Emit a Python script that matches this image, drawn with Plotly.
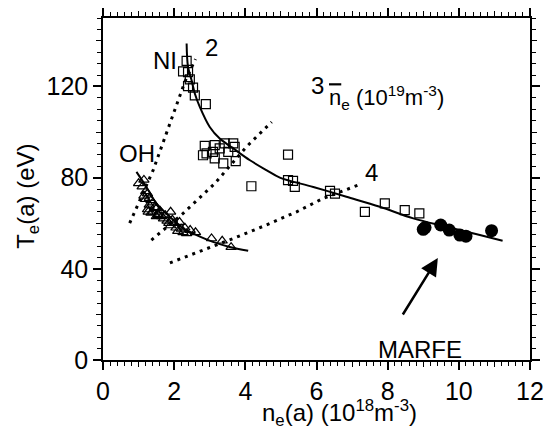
import plotly.graph_objects as go

# ---------------- data ----------------
# NI (squares)
ni_x = [2.35, 2.25, 2.39, 2.44, 2.39, 2.53, 2.58, 2.89, 2.86, 2.91, 3.14, 3.09, 3.14, 3.42, 3.38,
        3.66, 3.70, 3.73, 3.28, 3.52, 2.81, 5.20, 4.17, 5.20, 5.34, 5.39, 6.38, 6.52, 7.36, 7.92,
        8.48, 8.89]
ni_y = [131.2, 126.6, 126.3, 123.1, 120.1, 119.5, 116.1, 112.2, 93.9, 90.6, 94.2, 91.3, 88.4, 95.0, 86.2,
        95.0, 93.5, 87.2, 92.8, 91.3, 89.8, 90.1, 76.2, 78.9, 78.6, 75.9, 74.2, 73.0, 65.0, 68.7,
        65.7, 64.3]

# OH (triangles)
oh_x = [1.15, 1.00, 1.10, 1.20, 1.15, 1.25, 1.30, 1.20, 1.35, 1.30, 1.40, 1.45, 1.25, 1.40, 1.50,
        1.55, 1.35, 1.60, 1.65, 1.50, 1.70, 1.75, 1.80, 1.90, 1.85, 1.95, 1.90, 2.00, 2.05, 2.15,
        2.10, 2.20, 2.25, 2.35, 2.30, 2.45, 2.60, 3.05, 3.35, 3.60, 1.27, 1.55]
oh_y = [79.0, 77.5, 76.0, 74.0, 72.0, 73.0, 71.0, 70.5, 70.0, 68.0, 69.0, 67.0, 66.0, 65.0, 66.5,
        64.0, 64.5, 65.5, 63.0, 63.0, 62.0, 63.5, 61.0, 65.0, 60.0, 61.5, 59.0, 60.0, 58.0, 60.5,
        56.5, 57.5, 56.0, 55.5, 58.0, 57.0, 56.0, 53.3, 52.3, 49.5, 65.0, 63.5]

# MARFE (filled circles)
marfe_x = [9.05, 9.00, 9.49, 9.73, 10.03, 10.20, 10.92]
marfe_y = [58.1, 57.3, 59.2, 57.0, 54.8, 54.3, 56.7]

# fit curves
ni_fit_x = [2.35, 2.39, 2.49, 2.58, 2.72, 3.00, 3.28, 3.66, 4.13, 4.59, 4.97, 5.91, 6.84, 7.78, 8.72, 9.66, 10.59, 11.23]
ni_fit_y = [138.8, 128.5, 122.7, 116.9, 111.0, 102.2, 97.1, 92.8, 87.6, 83.3, 80.0, 75.9, 71.6, 67.2, 62.1, 58.4, 54.8, 52.3]
oh_fit_x = [0.94, 1.22, 1.50, 1.88, 2.25, 2.63, 3.09, 3.56, 4.08]
oh_fit_y = [82.5, 75.9, 68.7, 62.8, 57.7, 54.8, 51.8, 49.6, 47.9]

# constant line-averaged density lines (2, 3, 4 x 10^19 m^-3)
nbar2_x = [0.75, 1.41, 1.88, 2.30, 2.60]
nbar2_y = [60.0, 83.3, 103.7, 122.0, 132.0]
nbar3_x = [1.36, 2.25, 3.14, 4.03, 4.74]
nbar3_y = [52.6, 64.3, 77.4, 93.5, 104.4]
nbar4_x = [1.88, 2.72, 3.66, 4.59, 5.44, 6.19, 7.17]
nbar4_y = [42.6, 47.5, 53.3, 59.2, 65.0, 70.9, 76.7]

x_range = [0, 12]
y_range = [0, 150]

x_title = "n<sub>e</sub>(a) (10<sup>18</sup>m<sup>-3</sup>)"
y_title = "T<sub>e</sub>(a) (eV)"

FONT = "Liberation Sans, Arial, sans-serif"
FS = 24
TFS = 25

fig = go.Figure()

for xs, ys in [(nbar2_x, nbar2_y), (nbar3_x, nbar3_y), (nbar4_x, nbar4_y)]:
    fig.add_trace(go.Scatter(x=xs, y=ys, mode="lines",
                             line=dict(color="black", width=3, dash="3px,5px"),
                             showlegend=False, hoverinfo="skip"))

fig.add_trace(go.Scatter(x=ni_fit_x, y=ni_fit_y, mode="lines",
                         line=dict(color="black", width=2, shape="spline"), showlegend=False))
fig.add_trace(go.Scatter(x=oh_fit_x, y=oh_fit_y, mode="lines",
                         line=dict(color="black", width=2, shape="spline"), showlegend=False))

fig.add_trace(go.Scatter(x=ni_x, y=ni_y, mode="markers", name="NI",
                         marker=dict(symbol="square-open", size=9, color="black", line=dict(width=1.2)),
                         showlegend=False))
fig.add_trace(go.Scatter(x=oh_x, y=oh_y, mode="markers", name="OH",
                         marker=dict(symbol="triangle-up-open", size=9, color="black", line=dict(width=1.2)),
                         showlegend=False))
fig.add_trace(go.Scatter(x=marfe_x, y=marfe_y, mode="markers", name="MARFE",
                         marker=dict(symbol="circle", size=13, color="black"),
                         showlegend=False))

# dummy traces to register overlay axes (medium ticks)
fig.add_trace(go.Scatter(x=[None], y=[None], xaxis="x2", yaxis="y", showlegend=False))
fig.add_trace(go.Scatter(x=[None], y=[None], xaxis="x", yaxis="y2", showlegend=False))

ann = [
    dict(x=1.73, y=131.5, text="NI"),
    dict(x=3.06, y=137.2, text="2"),
    dict(x=6.03, y=120.5, text="3"),
    dict(x=7.55, y=82.4, text="4"),
    dict(x=0.95, y=90.7, text="OH"),
    dict(x=7.98, y=115.2,
         text="<span style=\"text-decoration:overline\">n</span><sub>e</sub> (10<sup>19</sup>m<sup>-3</sup>)",
         font=dict(family=FONT, size=22, color="black")),
    dict(x=8.91, y=4.4, text="MARFE"),
]
annotations = []
for a in ann:
    d = dict(xref="x", yref="y", showarrow=False, font=dict(family=FONT, size=FS, color="black"),
             xanchor="center", yanchor="middle")
    d.update(a)
    annotations.append(d)
annotations.append(dict(x=9.41, y=44.7, ax=8.40, ay=19.3, xref="x", yref="y", axref="x", ayref="y",
                        text="", showarrow=True, arrowhead=2, arrowsize=1.4, arrowwidth=2.5,
                        arrowcolor="black"))
# axis titles
annotations.append(dict(xref="paper", yref="paper", x=0.5547, y=-0.155, text=x_title, showarrow=False,
                        xanchor="center", yanchor="middle", font=dict(family=FONT, size=FS, color="black")))
annotations.append(dict(xref="paper", yref="paper", x=-0.1765, y=0.479, text=y_title, showarrow=False,
                        textangle=-90, xanchor="center", yanchor="middle",
                        font=dict(family=FONT, size=FS, color="black")))

axis_common = dict(showgrid=False, zeroline=False, color="black", automargin=False)

fig.update_layout(
    width=558, height=430,
    margin=dict(l=103, r=28, t=18, b=70),
    paper_bgcolor="white", plot_bgcolor="white",
    font=dict(family=FONT, size=FS, color="black"),
    annotations=annotations,
    xaxis=dict(range=x_range, dtick=2, tick0=0, ticks="outside", ticklen=8, tickwidth=1.5,
               showline=True, linewidth=1.5, linecolor="black", mirror="ticks",
               minor=dict(dtick=0.2, tick0=0, ticks="outside", ticklen=4, tickwidth=1.2, tickcolor="black"),
               tickfont=dict(size=TFS), **axis_common),
    yaxis=dict(range=y_range, dtick=40, tick0=0, ticks="outside", ticklen=8, tickwidth=1.5,
               showline=True, linewidth=1.5, linecolor="black", mirror="ticks",
               minor=dict(dtick=5, tick0=0, ticks="outside", ticklen=4, tickwidth=1.2, tickcolor="black"),
               tickfont=dict(size=TFS), **axis_common),
    xaxis2=dict(range=x_range, overlaying="x", anchor="y", side="bottom", dtick=1, tick0=0,
                ticks="outside", ticklen=6, tickwidth=1.2, tickcolor="black", mirror="ticks",
                showticklabels=False, showline=False, **axis_common),
    yaxis2=dict(range=y_range, overlaying="y", anchor="x", side="left", dtick=20, tick0=0,
                ticks="outside", ticklen=6, tickwidth=1.2, tickcolor="black", mirror="ticks",
                showticklabels=False, showline=False, **axis_common),
)

fig.write_html("out.html", config={"displayModeBar": False},
               post_script="document.body.style.margin='0';")
